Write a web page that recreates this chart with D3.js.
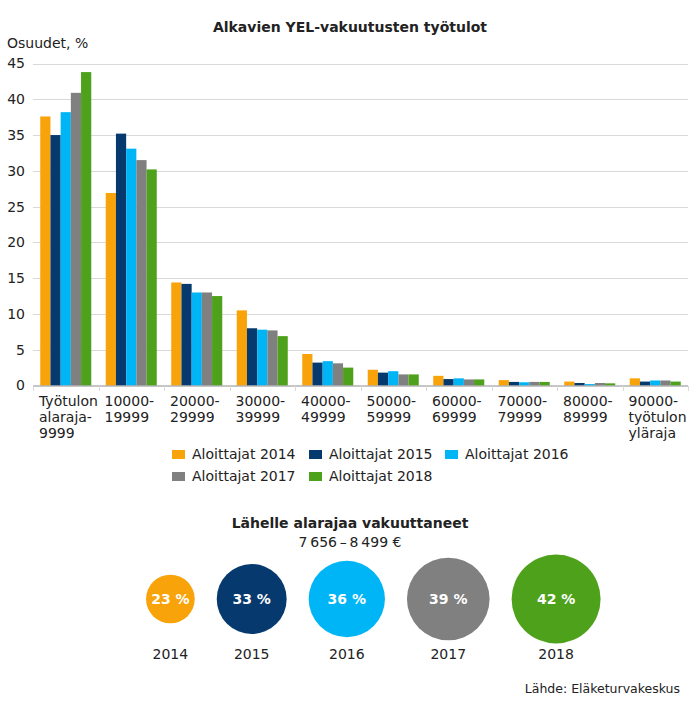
<!DOCTYPE html>
<html><head><meta charset="utf-8">
<script src="https://cdn.jsdelivr.net/npm/d3@7"></script>
<style>body{margin:0;background:#fff}svg{display:block}text{font-family:"DejaVu Sans",Verdana,sans-serif;fill:#222}</style>
</head><body>
<svg id="c" width="698" height="704"></svg>
<script>
const categories = [
  ["Työtulon","alaraja-","9999"],
  ["10000-","19999"],["20000-","29999"],["30000-","39999"],["40000-","49999"],
  ["50000-","59999"],["60000-","69999"],["70000-","79999"],["80000-","89999"],
  ["90000-","työtulon","yläraja"]
];
const seriesNames = ["Aloittajat 2014","Aloittajat 2015","Aloittajat 2016","Aloittajat 2017","Aloittajat 2018"];
const s2014 = [37.6, 26.9, 14.4, 10.5, 4.4, 2.2, 1.35, 0.75, 0.55, 1.0];
const s2015 = [35.0, 35.2, 14.2, 8.0, 3.2, 1.8, 0.9, 0.5, 0.35, 0.55];
const s2016 = [38.2, 33.1, 13.0, 7.8, 3.4, 2.0, 1.0, 0.45, 0.2, 0.7];
const s2017 = [40.9, 31.5, 13.0, 7.7, 3.1, 1.55, 0.85, 0.5, 0.35, 0.7];
const s2018 = [43.8, 30.2, 12.5, 6.9, 2.5, 1.55, 0.85, 0.5, 0.3, 0.55];
const yTicks = [0,5,10,15,20,25,30,35,40,45];
const colors = ["#F9A30B","#063A6F","#00B5F5","#808080","#4EA21B"];
const circleYears = ["2014","2015","2016","2017","2018"];
const circleValues = [23, 33, 36, 39, 42];

const series = [s2014,s2015,s2016,s2017,s2018];
const svg = d3.select("#c");

// Title
svg.append("text").attr("x",350).attr("y",32).attr("text-anchor","middle")
  .style("font-weight","bold").style("font-size","14px").text("Alkavien YEL-vakuutusten työtulot");
svg.append("text").attr("x",7).attr("y",48).style("font-size","14px").text("Osuudet, %");

const x0 = d3.scaleBand().domain(d3.range(categories.length)).range([33,688]).paddingInner(0).paddingOuter(0);
const x1 = d3.scaleBand().domain(d3.range(series.length)).range([0,x0.bandwidth()]).paddingInner(0).paddingOuter(0.71);
const y = d3.scaleLinear().domain([0,45]).range([385.5,63.5]);

// gridlines
svg.append("g").selectAll("line").data(yTicks.filter(d=>d>0)).join("line")
  .attr("x1",33).attr("x2",688).attr("y1",d=>Math.round(y(d))+0.5).attr("y2",d=>Math.round(y(d))+0.5)
  .attr("stroke","#d9d9d9").attr("stroke-width",1);

// y labels
const yAxis = d3.axisLeft(y).tickValues(yTicks).tickSize(0).tickPadding(0);
const ya = svg.append("g").attr("transform","translate(25,0)").call(yAxis);
ya.select(".domain").remove();
ya.selectAll("text").style("font-size","14px").style("font-family","DejaVu Sans").attr("fill","#222");

// bars
const g = svg.append("g");
categories.forEach((c,i)=>{
  series.forEach((s,j)=>{
    g.append("rect").attr("x",x0(i)+x1(j)).attr("width",x1.bandwidth())
      .attr("y",y(s[i])).attr("height",y(0)-y(s[i])).attr("fill",colors[j]);
  });
});

// x axis
svg.append("line").attr("x1",33).attr("x2",688).attr("y1",386).attr("y2",386).attr("stroke","#8c8c8c");
svg.append("g").selectAll("line").data(d3.range(categories.length+1)).join("line")
  .attr("x1",d=>Math.round(d<categories.length?x0(d):688)+0.5).attr("x2",d=>Math.round(d<categories.length?x0(d):688)+0.5)
  .attr("y1",386).attr("y2",391).attr("stroke","#d9d9d9");
categories.forEach((c,i)=>{
  const t = svg.append("text").attr("x",x0(i)+6).attr("y",406).style("font-size","14px");
  c.forEach((line,k)=>{ t.append("tspan").attr("x",x0(i)+6).attr("y",406+k*16).text(line); });
});

// legend
const legendPos = [[172,450],[309,450],[445,450],[172,472],[309,472]];
seriesNames.forEach((n,j)=>{
  const [lx,ly] = legendPos[j];
  svg.append("rect").attr("x",lx).attr("y",ly).attr("width",13).attr("height",9).attr("fill",colors[j]);
  svg.append("text").attr("x",lx+20).attr("y",ly+9).style("font-size","14px").text(n);
});

// lower section
svg.append("text").attr("x",350).attr("y",528).attr("text-anchor","middle")
  .style("font-weight","bold").style("font-size","14px").text("Lähelle alarajaa vakuuttaneet");
svg.append("text").attr("x",350).attr("y",547).attr("text-anchor","middle")
  .style("font-size","14px").text("7\u2009656\u2009–\u20098\u2009499 €");

const r = d3.scaleLinear().domain([0,42]).range([0,44.5]);
const gap = 22;
let cx = 146;
const cy = 599;
circleValues.forEach((v,i)=>{
  const rad = r(v);
  cx += (i===0 ? rad : r(circleValues[i-1]) + gap + rad);
  svg.append("circle").attr("cx",cx).attr("cy",cy).attr("r",rad).attr("fill",colors[i]);
  svg.append("text").attr("x",cx).attr("y",cy+5).attr("text-anchor","middle")
    .style("font-weight","bold").style("font-size","14px").style("fill","#fff").text(v+" %");
  svg.append("text").attr("x",cx).attr("y",659).attr("text-anchor","middle")
    .style("font-size","14px").text(circleYears[i]);
});

svg.append("text").attr("x",680).attr("y",693).attr("text-anchor","end")
  .style("font-size","12.5px").text("Lähde: Eläketurvakeskus");
</script>
</body></html>
